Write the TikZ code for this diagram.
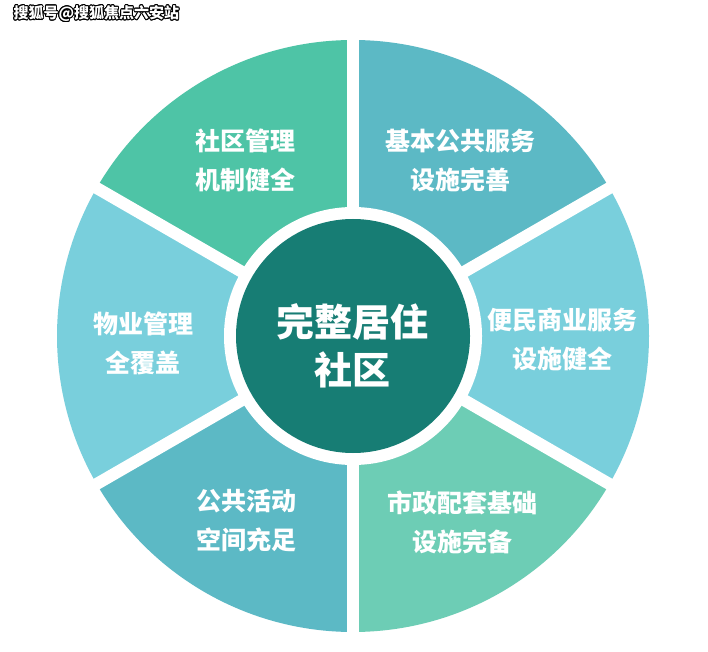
\documentclass[tikz,border=0pt]{standalone}
\usepackage{fontspec}
\setmainfont{Noto Sans CJK SC}
\usepackage{contour}
\contourlength{0.9pt}
\usetikzlibrary{positioning}

\definecolor{hubteal}{HTML}{177D74}
\definecolor{mintgreen}{HTML}{4EC4A6}
\definecolor{seateal}{HTML}{5CB9C5}
\definecolor{skycyan}{HTML}{79CFDC}
\definecolor{palemint}{HTML}{6DCDB5}

\tikzset{
  sectorlabel/.style={text=white, align=center, font=\fontsize{25}{39}\selectfont\bfseries},
  hublabel/.style={text=white, align=center, font=\fontsize{38}{48}\selectfont\bfseries},
  gapline/.style={white, line width=12pt}
}

\begin{document}
\begin{tikzpicture}[x=1pt,y=1pt]
\useasboundingbox[fill=white] (0,0) rectangle (708,651);
\coordinate (c) at (353,315);

% six sectors
\foreach \a/\col in {30/seateal,-30/skycyan,-90/palemint,-150/seateal,150/skycyan,90/mintgreen}
  \fill[\col] (c) -- ++(\a:296) arc[start angle=\a, end angle=\a+60, radius=296] -- cycle;
\foreach \a in {30,90,...,330}
  \draw[gapline] (c) -- ++(\a:300);

% hub
\fill[white] (c) circle[radius=129];
\fill[hubteal] (c) circle[radius=117];

\node[hublabel] (hub) at (352,305) {完整居住\\社区};
\node[sectorlabel] (manage) at (245,491) {社区管理\\机制健全};
\node[sectorlabel] (public) at (460,491) {基本公共服务\\设施完善};
\node[sectorlabel] (commerce) at (562,312) {便民商业服务\\设施健全};
\node[sectorlabel] (property) at (143,308) {物业管理\\全覆盖};
\node[sectorlabel] (activity) at (246,130) {公共活动\\空间充足};
\node[sectorlabel] (municipal) at (462,129) {市政配套基础\\设施完备};

\node[anchor=west, font=\fontsize{15}{15}\selectfont\bfseries] (mark) at (10,637)
  {\contour{black}{\textcolor{white}{搜狐号@搜狐焦点六安站}}};
\end{tikzpicture}
\end{document}
